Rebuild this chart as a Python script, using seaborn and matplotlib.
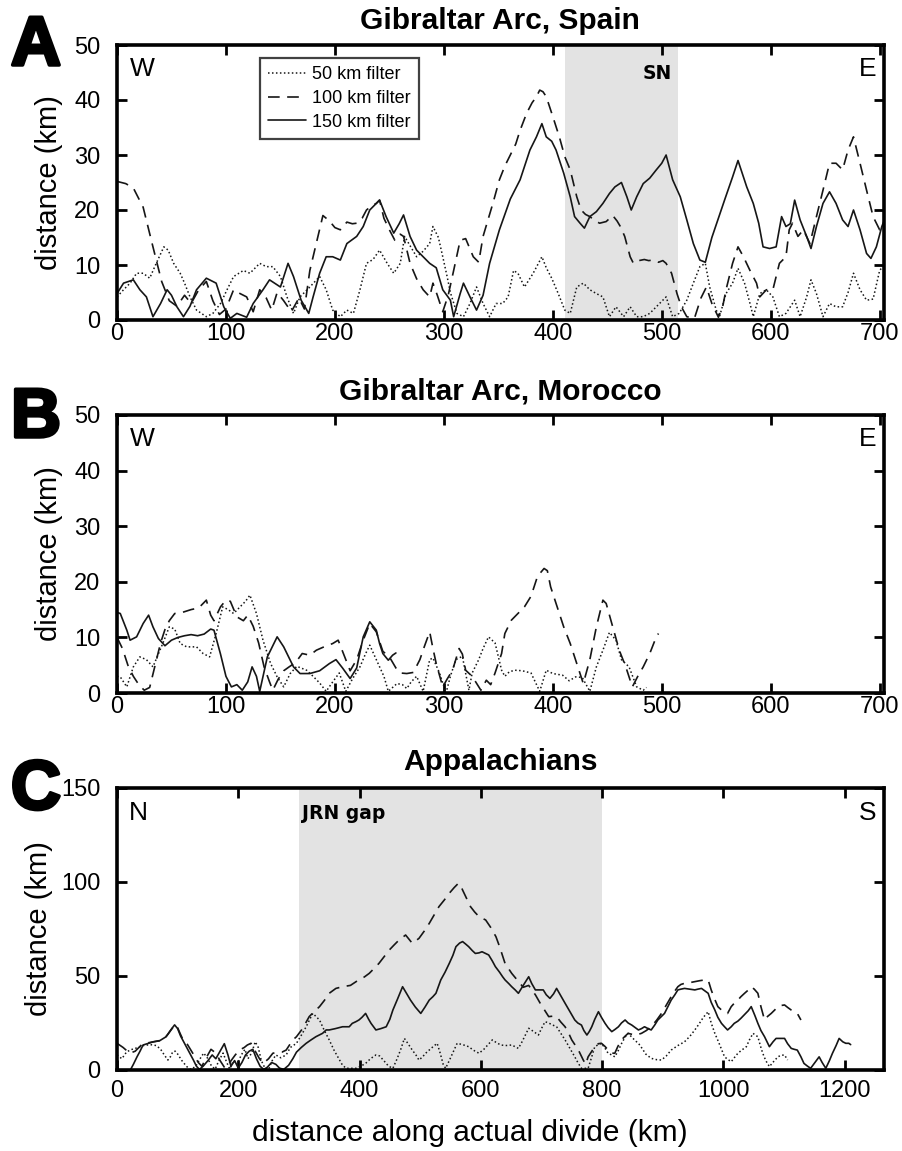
import matplotlib
matplotlib.use("Agg")
import matplotlib.pyplot as plt
from matplotlib.lines import Line2D
import matplotlib.patheffects as pe
import seaborn as sns

sns.set_theme(style="white")
plt.rcParams['font.family'] = ['Liberation Sans', 'DejaVu Sans']
plt.rcParams['text.color'] = 'black'
plt.rcParams['axes.labelcolor'] = 'black'

# ---------------- Panel A: Gibraltar Arc, Spain ----------------
a100_x = [0, 8, 15, 24, 33, 41, 48, 55, 62, 68, 75, 82, 88, 94, 100, 107, 113, 119, 125, 131, 137, 142, 147, 153, 160, 167, 172, 177, 183, 189, 195, 200, 205, 211, 216, 220, 225, 229, 234, 238, 241, 245, 250, 255, 260, 263, 269, 275, 281, 287, 290, 294, 299, 304, 309, 315, 320, 327, 332, 336, 341, 345, 351, 356, 361, 366, 370, 376, 381, 385, 388, 391, 394, 400, 406, 411, 416, 422, 426, 430, 434, 439, 443, 449, 455, 459, 462, 466, 471, 474, 479, 484, 488, 492, 497, 501, 504, 509, 514, 518, 523, 530, 536, 541, 546, 552, 556, 559, 565, 570, 575, 581, 587, 590, 596, 602, 608, 614, 617, 620, 625, 630, 636, 642, 648, 654, 660, 666, 671, 676, 682, 688, 694, 700, 704]
a100_y = [25.2, 24.8, 24, 20.5, 13.3, 7, 3.5, 2.5, 4.5, 3, 5.5, 7, 3.5, 1, 2, 5.5, 4.8, 4.2, 1.5, 5.5, 4, 1.8, 5, 3.5, 1.5, 4, 2, 9, 14, 19, 18, 16.8, 16.4, 17.8, 17.5, 17.6, 18.5, 20, 20.8, 21.2, 21.8, 18.5, 16.4, 14.5, 15.6, 15.2, 10.3, 7.5, 5.5, 4.2, 6.7, 4.5, 1.5, 4.5, 9, 14.5, 14.8, 11.5, 10.5, 15.2, 18.5, 21.2, 25.5, 28, 30, 32, 34.5, 37.6, 39.5, 40.6, 41.8, 41.5, 40.6, 37, 33.3, 29.7, 27.3, 22.4, 20, 19.2, 18.8, 18, 17.6, 17.9, 19, 18, 17, 15.2, 11.5, 10.3, 10.8, 11, 10.8, 10.9, 10.5, 10.8, 10.3, 8.5, 4.8, 2.4, 0.6, 0.3, 4, 6, 3, 0.5, 2.5, 5.5, 10.3, 13.3, 11.5, 9, 6.7, 4.2, 5.5, 5.5, 10.3, 11.5, 16.4, 17.6, 15.2, 16.4, 13.9, 18.8, 23.6, 28.5, 28.5, 27.3, 30.9, 33.3, 28.5, 23.6, 18.8, 16.4, 17.5]

a150_x = [0, 6, 15, 21, 27, 33, 40, 46, 50, 55, 61, 67, 73, 82, 91, 98, 104, 110, 119, 125, 134, 140, 150, 157, 162, 169, 176, 180, 186, 192, 198, 205, 211, 220, 226, 232, 238, 241, 247, 254, 259, 263, 269, 275, 281, 287, 293, 299, 306, 309, 315, 318, 324, 330, 336, 342, 351, 361, 370, 379, 385, 390, 394, 399, 403, 410, 416, 420, 425, 429, 434, 440, 446, 452, 457, 463, 468, 472, 477, 483, 489, 495, 500, 504, 510, 517, 523, 529, 535, 540, 546, 552, 558, 565, 570, 578, 584, 589, 593, 599, 605, 610, 614, 618, 622, 627, 633, 637, 642, 648, 654, 660, 666, 671, 676, 682, 688, 692, 697, 702, 704]
a150_y = [4.8, 6.7, 7.3, 5.5, 4.2, 0.6, 3, 5.5, 4.5, 2.4, 0.6, 2.5, 5.5, 7.6, 6.7, 2.4, 0.3, 1.2, 0.5, 3, 5.5, 7.3, 6, 10.3, 7.9, 3.6, 1.2, 4.2, 8.5, 11.5, 11.5, 10.9, 13.9, 15.2, 17, 20, 21.2, 21.8, 18.8, 15.8, 17.5, 19.1, 15.2, 12.7, 11.5, 10.3, 9.5, 5.5, 3.6, 0.6, 4.8, 6.7, 4.2, 1.8, 4.5, 10.3, 16.4, 22, 25.5, 30.9, 33.3, 35.7, 33.3, 32.5, 30.9, 26.7, 22.4, 18.8, 17.6, 16.7, 18.8, 19.7, 21.2, 23, 24.2, 25, 22.4, 20, 22.4, 24.8, 25.8, 27.3, 28.5, 30, 25.5, 22.4, 18.2, 13.9, 10.9, 10.5, 15, 18.5, 22, 26, 29, 24.2, 21.2, 17.6, 13.3, 13, 13.3, 18.8, 17, 17.5, 21.8, 18.2, 15.2, 13, 17, 21.2, 23.3, 21.2, 18.2, 17, 20, 16.4, 12.1, 11.2, 13.3, 17, 18]

a50_x = [0, 6, 12, 18, 24, 30, 36, 43, 47, 52, 58, 62, 67, 73, 82, 88, 95, 101, 107, 116, 122, 131, 137, 143, 150, 156, 162, 168, 177, 186, 192, 198, 205, 211, 217, 223, 229, 235, 241, 248, 254, 260, 264, 269, 275, 281, 287, 290, 295, 299, 303, 306, 312, 318, 324, 330, 336, 342, 348, 354, 359, 364, 368, 374, 382, 390, 394, 399, 405, 411, 416, 422, 428, 434, 440, 446, 452, 458, 465, 471, 477, 483, 489, 495, 504, 510, 516, 523, 529, 535, 540, 544, 550, 553, 559, 565, 570, 576, 581, 584, 590, 596, 602, 608, 614, 622, 627, 633, 637, 642, 648, 654, 660, 666, 671, 676, 682, 688, 694, 700, 704]
a50_y = [4.2, 5.5, 6.7, 8.5, 8.5, 7.6, 10.3, 13.3, 12.7, 10.3, 8.5, 6.7, 4.2, 1.8, 0.6, 1.2, 3, 5.5, 7.9, 9, 8.5, 10.3, 9.7, 9.7, 7.9, 4.2, 1.2, 4.2, 6, 7.9, 5.5, 1.8, 0.6, 1.8, 1.2, 5.5, 10.3, 11, 12.7, 10.3, 8.5, 10.3, 15.2, 13.5, 11.5, 12.5, 13.9, 17, 15, 11.5, 7.9, 5, 1.2, 0.6, 3, 6, 3, 0.6, 3, 3, 4.2, 9, 8.5, 6, 8.5, 11.5, 9.5, 7.6, 4.8, 1.8, 1.2, 6, 6.7, 5.5, 4.8, 4.2, 0.6, 2.4, 0.6, 2.4, 0.6, 0.6, 1.2, 2.4, 4.2, 0.6, 1.2, 3.6, 6.7, 9.7, 10.3, 6, 1.8, 0.6, 4.8, 6.7, 9.4, 6.7, 3, 0.6, 4.8, 5.5, 4.2, 0.6, 1.2, 3.6, 0.6, 4.2, 7.3, 4.8, 0.6, 3, 2.4, 2.4, 5, 8.5, 5.5, 3.6, 3.8, 9, 10]

# ---------------- Panel B: Gibraltar Arc, Morocco ----------------
b100_x = [0, 5, 10, 15, 20, 25, 30, 35, 40, 44, 48, 53, 60, 68, 75, 82, 86, 89, 95, 100, 104, 110, 116, 120, 125, 130, 135, 140, 143, 148, 153, 158, 164, 170, 177, 183, 190, 198, 203, 208, 214, 220, 226, 232, 238, 244, 250, 256, 260, 266, 272, 278, 282, 287, 290, 293, 299, 303, 308, 314, 317, 320, 326, 334, 339, 343, 347, 353, 356, 362, 368, 374, 380, 386, 392, 395, 398, 404, 410, 416, 422, 428, 434, 440, 446, 449, 455, 461, 467, 473, 478, 483, 489, 495, 497]
b100_y = [10, 8, 5, 3, 1.5, 0.5, 1, 5, 9, 11.4, 13, 14.3, 14.5, 15, 15.3, 16.7, 14, 13, 15.5, 16.7, 16.5, 13.7, 13, 14, 12, 9, 4.7, 2, 0.5, 2.5, 4, 4.7, 5.5, 7.1, 6.8, 7.7, 8.3, 8.9, 9.5, 7, 4, 6, 9.5, 12.5, 11, 7.5, 6.5, 4.5, 3.6, 3.5, 3.7, 6, 8.3, 11, 8, 5.3, 1.1, 2.5, 4.1, 8, 7, 4.1, 3, 0.5, 2.3, 1.5, 3.6, 7.1, 10.7, 13.1, 14.3, 15.5, 17.4, 21, 22.4, 22, 19.1, 15.5, 11.9, 8.9, 5.3, 1.7, 6, 11.9, 16.7, 16.1, 11.9, 7.7, 4.7, 1.1, 3, 4.7, 7.1, 10.1, 10.7]

b150_x = [0, 3, 9, 12, 18, 24, 29, 33, 38, 44, 50, 56, 62, 68, 74, 80, 86, 89, 95, 100, 105, 110, 115, 120, 124, 128, 131, 138, 147, 153, 162, 168, 177, 186, 195, 201, 207, 214, 220, 226, 232, 238, 241, 244, 249, 253, 256]
b150_y = [14.5, 14.3, 11.3, 9.5, 10.1, 12.5, 14, 11.9, 9.8, 8.5, 9.5, 10, 10.3, 10.5, 10.3, 10.6, 11.5, 11.3, 7, 3, 1.1, 1.5, 0.5, 2, 4.7, 3, 0.3, 6.5, 10.1, 8.3, 4.7, 3.5, 3.5, 4, 5.3, 6, 4.5, 2.6, 4.5, 10.1, 12.8, 11.3, 8.9, 7.1, 5.9, 6.8, 7.2]

b50_x = [0, 3, 9, 15, 21, 27, 33, 42, 48, 53, 58, 64, 73, 79, 85, 91, 97, 102, 107, 113, 118, 122, 128, 134, 141, 147, 153, 159, 165, 174, 180, 186, 192, 198, 204, 210, 216, 223, 228, 232, 238, 245, 249, 257, 262, 266, 270, 275, 281, 287, 290, 296, 302, 306, 311, 317, 323, 326, 332, 336, 341, 347, 353, 356, 360, 365, 372, 380, 388, 394, 400, 409, 415, 421, 427, 434, 440, 446, 452, 458, 463, 470, 477, 483, 486]
b50_y = [3, 2.9, 1.1, 4.7, 6.5, 6, 4.7, 8.9, 11.9, 11.5, 8.9, 8.3, 8.3, 7.1, 6.5, 10.7, 15.5, 15, 14.3, 15.5, 16.5, 17.6, 14.3, 9.5, 5.3, 2.9, 1.1, 3.5, 4.8, 4.1, 3, 1.8, 0.3, 2, 3.6, 0.3, 2.5, 4.7, 7, 8.6, 6, 3, 0.3, 1.7, 1.5, 0.8, 2, 3, 0.3, 6, 6.3, 3.6, 0, 3, 6, 6.6, 0.5, 3.6, 6, 8, 10.1, 9, 4.1, 3, 3.8, 4.1, 4, 3.6, 0.3, 4.1, 3.5, 3.2, 2.2, 2.9, 2.8, 0.3, 4.7, 7.7, 10.9, 9.5, 6, 4.7, 1.1, 0.5, 1]

# ---------------- Panel C: Appalachians ----------------
c100_x = [0, 10, 21, 30, 43, 52, 60, 68, 76, 84, 93, 98, 104, 109, 115, 125, 134, 140, 148, 155, 163, 170, 178, 186, 195, 202, 210, 215, 221, 228, 235, 241, 250, 257, 265, 272, 279, 290, 296, 306, 317, 325, 334, 342, 350, 361, 372, 385, 399, 408, 416, 424, 432, 440, 449, 457, 465, 476, 487, 498, 507, 515, 523, 531, 540, 548, 556, 563, 567, 570, 577, 583, 590, 597, 608, 616, 625, 631, 640, 651, 660, 670, 679, 690, 698, 705, 712, 718, 725, 732, 739, 745, 750, 756, 761, 765, 769, 773, 777, 783, 788, 794, 799, 805, 810, 815, 821, 826, 832, 838, 843, 849, 855, 865, 873, 881, 890, 898, 906, 914, 920, 925, 930, 936, 945, 953, 961, 969, 975, 980, 986, 991, 1000, 1007, 1013, 1018, 1024, 1029, 1035, 1041, 1046, 1051, 1057, 1062, 1068, 1073, 1079, 1085, 1090, 1095, 1101, 1106, 1112, 1117, 1122, 1128]
c100_y = [14.2, 12, 8.9, 10, 14.2, 14.5, 15, 15.5, 16, 19, 23, 24, 19.5, 16, 14.2, 8.9, 4, 2, 7, 11, 9, 5, 1, 4, 8, 10.6, 12, 13.3, 14.2, 10, 6, 3.5, 6, 8.9, 9.5, 9.5, 10.6, 16, 17.7, 22, 28.4, 31, 33.7, 37, 40.8, 43.4, 44.3, 45, 48, 49.5, 51.4, 54, 56.7, 60, 63.8, 66.5, 69.1, 71.8, 67.4, 70, 74, 78, 82.5, 86.9, 90.5, 94, 97, 99.3, 98, 95.7, 91, 86.9, 84, 81.6, 79.8, 76, 70.9, 65.6, 56.7, 51.4, 47.9, 44, 45, 40, 35.5, 32, 28.4, 28.6, 28.4, 25.5, 23, 19.5, 16, 13, 10.6, 8, 5.3, 3, 7, 10, 12.4, 14, 14.2, 12.5, 10.6, 9, 8.9, 12.5, 16, 18, 19.5, 19, 18.5, 19.5, 21, 23, 26.5, 30.1, 34.5, 39, 42, 44.3, 45.5, 46.1, 46.5, 47, 47.5, 47.9, 47.9, 42.6, 37.5, 33.7, 31, 30.1, 33.7, 35.5, 37.2, 39, 40.8, 42.5, 44.3, 43, 40.8, 33.7, 26.6, 28.5, 30.1, 32, 33.7, 34.3, 34.6, 33.3, 31.9, 31, 30.1, 26.6]

c150_x = [22, 27, 33, 38, 43, 50, 60, 70, 81, 88, 95, 100, 105, 110, 115, 120, 126, 131, 136, 142, 150, 157, 163, 170, 177, 183, 188, 194, 200, 206, 212, 218, 224, 230, 236, 242, 248, 255, 262, 268, 275, 283, 290, 296, 304, 312, 320, 328, 339, 345, 350, 360, 372, 383, 388, 394, 399, 404, 410, 415, 419, 427, 435, 444, 450, 455, 463, 471, 477, 484, 492, 501, 508, 515, 521, 526, 534, 541, 548, 554, 559, 565, 570, 575, 580, 586, 591, 597, 602, 608, 613, 619, 624, 631, 636, 640, 646, 651, 657, 662, 670, 679, 684, 690, 697, 703, 708, 714, 720, 725, 732, 739, 747, 755, 760, 766, 770, 775, 779, 783, 788, 794, 799, 805, 810, 816, 821, 827, 832, 838, 843, 849, 855, 860, 865, 870, 876, 881, 887, 892, 898, 903, 909, 914, 920, 925, 930, 936, 945, 953, 958, 964, 970, 975, 980, 986, 991, 997, 1002, 1007, 1013, 1018, 1024, 1029, 1035, 1041, 1046, 1052, 1057, 1062, 1068, 1072, 1076, 1082, 1087, 1095, 1101, 1106, 1112, 1117, 1122, 1128, 1133, 1139, 1144, 1150, 1158, 1163, 1169, 1175, 1180, 1186, 1191, 1197, 1202, 1207, 1210]
c150_y = [0, 3, 7, 10, 13.3, 14, 15, 15.5, 17.7, 21, 24, 22, 18, 15, 12, 9, 5.3, 2, 0.3, 2, 5, 8, 6, 10, 14, 8, 2, 5, 1, 4, 8, 10, 11, 6, 2, 0.3, 1.5, 4, 3, 1, 0.3, 2.5, 6, 9.5, 12, 14.2, 16, 17.7, 19.5, 21.3, 21.3, 22, 23, 23, 24.8, 25.7, 26.6, 28, 30.1, 27, 24.8, 21.3, 22, 23, 27, 31.9, 38, 44.3, 41, 37.2, 33.5, 30.1, 33.5, 37.2, 39, 40.8, 47.9, 52, 56.7, 61, 65.6, 67.5, 68.3, 67, 65.6, 63.5, 62, 62.3, 62.9, 62, 61.2, 58, 55, 52, 49.6, 47.9, 46, 44.3, 42.5, 40.8, 45, 49.6, 46, 42.6, 42.6, 42.6, 40, 38.1, 40.5, 43.4, 39.5, 35.5, 31, 26.6, 25, 23.9, 21, 18.6, 20.5, 23, 27, 31, 28, 24.8, 22.5, 20.4, 21.5, 23, 25, 26.6, 25, 23.9, 22.5, 21.3, 22, 23, 22, 21.3, 24, 26.6, 28.5, 30.1, 34, 37.2, 40, 42.6, 43, 43.4, 43, 42.6, 43, 43.4, 42, 40.8, 36, 31.9, 28, 24.8, 23, 21.3, 23, 24.8, 26, 27.5, 29.5, 31.5, 33.7, 29, 24.8, 21, 17.7, 15, 12.4, 15, 16.8, 16.8, 16.8, 14, 11.5, 11, 10.6, 7, 3.5, 2, 0.9, 3.5, 7, 4, 0.9, 5, 8.9, 13, 16.8, 15, 14.2, 14.2, 13.5]

c50_x = [0, 8, 16, 25, 35, 43, 55, 65, 72, 78, 84, 88, 92, 96, 100, 107, 115, 122, 130, 137, 143, 150, 156, 162, 168, 175, 181, 186, 192, 198, 205, 211, 216, 222, 228, 233, 238, 244, 250, 256, 262, 270, 279, 286, 296, 304, 312, 318, 323, 328, 334, 342, 350, 358, 367, 372, 378, 386, 394, 402, 410, 418, 427, 433, 440, 448, 455, 462, 468, 474, 480, 487, 493, 498, 504, 509, 518, 528, 533, 538, 542, 548, 555, 561, 570, 580, 588, 597, 605, 612, 619, 626, 633, 641, 651, 656, 662, 668, 674, 679, 687, 695, 700, 706, 712, 718, 725, 732, 739, 747, 755, 760, 766, 777, 782, 788, 794, 799, 805, 810, 816, 821, 827, 832, 838, 843, 849, 855, 860, 866, 872, 881, 890, 898, 906, 914, 925, 936, 945, 953, 960, 967, 975, 980, 986, 992, 997, 1002, 1008, 1013, 1018, 1024, 1030, 1038, 1043, 1049, 1053, 1057, 1061, 1065, 1070, 1076, 1083, 1090, 1095, 1101, 1106]
c50_y = [8, 6, 9.7, 11, 12, 13, 13.5, 13, 11, 8, 5.3, 7, 9.7, 10, 8.5, 5, 1.8, 0.3, 2, 6, 9, 6, 2, 0.5, 5, 9, 4, 0.5, 5, 3, 8, 11, 6, 9, 15, 12, 5, 1, 0.3, 5, 8, 6.5, 8, 12, 14.2, 18.5, 23, 27, 30.1, 28.5, 26.6, 21, 16, 10.5, 5.3, 2.5, 0.9, 0.9, 0.9, 2, 3.5, 6, 8, 7.5, 5, 2, 0.9, 6, 11, 16.8, 14, 10.6, 8, 5.3, 7, 8.9, 11.5, 14.2, 9, 3, 0.9, 5, 10, 14.2, 13.5, 12.4, 10.5, 8.9, 11, 13.5, 16, 14.5, 13.3, 13, 13.3, 12.5, 11.5, 15, 19, 22.2, 20.5, 18.6, 22, 25.7, 25, 24, 23, 19.5, 16, 11.5, 7, 4, 0.9, 0.9, 6, 12.4, 13.5, 14.2, 11.5, 8.9, 8, 7, 10.5, 14, 17.5, 19.5, 17.5, 15.5, 14.2, 11.5, 8.5, 6.2, 5.5, 5.3, 7.5, 10.6, 13, 15, 18, 21.3, 24.5, 28, 31, 25, 19.5, 15, 11, 7, 5.5, 4.4, 6.5, 8.9, 10.5, 12.4, 16, 19.5, 18.5, 17.7, 13, 8.9, 5, 1.8, 4.5, 7, 7.8, 8, 5.3]

titles = ["Gibraltar Arc, Spain", "Gibraltar Arc, Morocco", "Appalachians"]
letters = ["A", "B", "C"]
legend_labels = ["50 km filter", "100 km filter", "150 km filter"]

LINE = "#161616"
SHADE = "#e3e3e3"
DOT = (0, (1.0, 1.6))
DASH = (0, (7.0, 4.5))

W, H = 902, 1151
fig = plt.figure(figsize=(W / 100, H / 100), dpi=100)
fig.patch.set_facecolor("white")

def box(top, bottom):
    return [117 / W, 1 - bottom / H, 767 / W, (bottom - top) / H]

axA = fig.add_axes(box(45, 320))
axB = fig.add_axes(box(415, 693))
axC = fig.add_axes(box(788, 1070))

def draw(ax, x50, y50, x100, y100, x150, y150):
    sns.lineplot(x=x50, y=y50, ax=ax, color=LINE, lw=1.1, linestyle=DOT, estimator=None, sort=False)
    sns.lineplot(x=x100, y=y100, ax=ax, color=LINE, lw=1.2, linestyle=DASH, estimator=None, sort=False)
    sns.lineplot(x=x150, y=y150, ax=ax, color=LINE, lw=1.2, linestyle="-", estimator=None, sort=False)

axA.axvspan(411, 515, color=SHADE, lw=0, zorder=0)
axC.axvspan(300, 800, color=SHADE, lw=0, zorder=0)

draw(axA, a50_x, a50_y, a100_x, a100_y, a150_x, a150_y)
draw(axB, b50_x, b50_y, b100_x, b100_y, b150_x, b150_y)
draw(axC, c50_x, c50_y, c100_x, c100_y, c150_x, c150_y)

tick_font = ['Liberation Sans Narrow', 'Liberation Sans', 'DejaVu Sans']
for ax, xmax, ymax, xt, yt, xpad, ylx in [(axA, 704, 50, range(0, 701, 100), range(0, 51, 10), 2.5, -0.070),
                                          (axB, 704, 50, range(0, 701, 100), range(0, 51, 10), 2.5, -0.070),
                                          (axC, 1265, 150, range(0, 1201, 200), range(0, 151, 50), 7, -0.084)]:
    ax.set_xlim(0, xmax)
    ax.set_ylim(0, ymax)
    ax.set_xticks(list(xt))
    ax.set_yticks(list(yt))
    ax.tick_params(direction="in", length=7, width=2.0, top=True, right=True,
                   bottom=True, left=True, labelsize=17, colors="black")
    ax.tick_params(axis="x", pad=xpad)
    ax.tick_params(axis="y", pad=12)
    for lab in ax.get_xticklabels() + ax.get_yticklabels():
        lab.set_family(tick_font)
    for s in ax.spines.values():
        s.set_linewidth(2.6)
        s.set_color("black")
        s.set_visible(True)
    ax.set_xlabel("")
    ax.set_ylabel("distance (km)", fontsize=21, family=tick_font)
    ax.yaxis.set_label_coords(ylx, 0.5)
    ax.set_facecolor("white")

axC.set_xlabel("distance along actual divide (km)", fontsize=21.5, family=tick_font)
axC.xaxis.set_label_coords(0.46, -0.172)

# titles and panel letters
for (ty, ly), t, l in zip([(21, 47), (392, 419), (762, 791)], titles, letters):
    fig.text(500 / W, 1 - ty / H, t, ha="center", va="center", fontsize=21.5, fontweight="bold")
    fig.text(36 / W, 1 - ly / H, l, ha="center", va="center", fontsize=50, fontweight="bold",
             path_effects=[pe.withStroke(linewidth=2.5, foreground="black")])

# corner labels
corner = dict(fontsize=19, family=tick_font, va="center")
axA.text(12, 45.6, "W", ha="left", **corner)
axA.text(697, 45.6, "E", ha="right", **corner)
axB.text(12, 45.6, "W", ha="left", **corner)
axB.text(697, 45.6, "E", ha="right", **corner)
axC.text(20, 136.5, "N", ha="left", **corner)
axC.text(1253, 136.5, "S", ha="right", **corner)
axA.text(509, 44.8, "SN", ha="right", va="center", fontsize=13.5, fontweight="bold", family="DejaVu Sans")
axC.text(305, 136.5, "JRN gap", ha="left", va="center", fontsize=13.5, fontweight="bold", family="DejaVu Sans")

handles = [Line2D([], [], color=LINE, lw=1.1, linestyle=DOT),
           Line2D([], [], color=LINE, lw=1.2, linestyle=DASH),
           Line2D([], [], color=LINE, lw=1.2, linestyle="-")]
leg = axA.legend(handles, legend_labels, loc="upper left", bbox_to_anchor=(0.186, 0.953),
                 frameon=True, fancybox=False, edgecolor="#111111", fontsize=13,
                 handlelength=2.1, handletextpad=0.35, borderpad=0.45, labelspacing=0.38,
                 borderaxespad=0)
leg.get_frame().set_linewidth(1.6)
for t in leg.get_texts():
    t.set_family(tick_font)

fig.savefig("out.png", dpi=100, facecolor="white")
